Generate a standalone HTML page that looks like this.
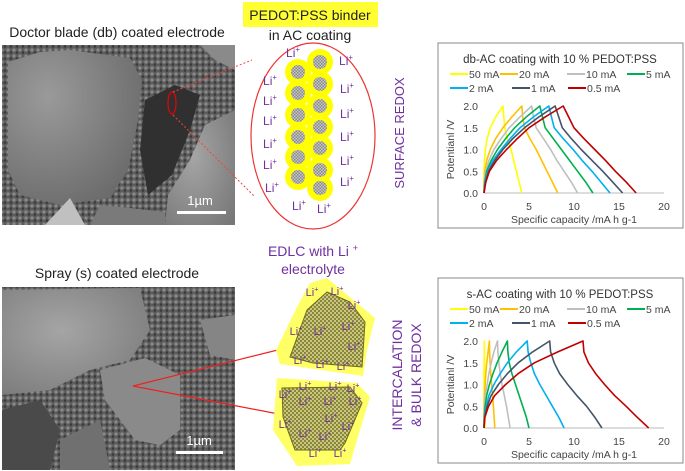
<!DOCTYPE html>
<html><head><meta charset="utf-8"><style>
html,body{margin:0;padding:0;background:#fff}
svg{display:block;font-family:"Liberation Sans",Calibri,sans-serif}
</style></head><body>
<svg id="fig" width="685" height="471" viewBox="0 0 685 471">
<defs>
<pattern id="chk" width="4" height="4" patternUnits="userSpaceOnUse"><rect width="4" height="4" fill="#c9c77a"/><rect width="2" height="2" fill="#8a8640"/><rect x="2" y="2" width="2" height="2" fill="#8a8640"/></pattern>
<pattern id="dots" width="3" height="3" patternUnits="userSpaceOnUse"><rect width="3" height="3" fill="#c8c8c8"/><rect width="1.5" height="1.5" fill="#888"/><rect x="1.5" y="1.5" width="1.5" height="1.5" fill="#888"/></pattern>
<pattern id="grain" width="6" height="6" patternUnits="userSpaceOnUse"><rect width="6" height="6" fill="#5c5c5c"/><circle cx="2" cy="2" r="1.6" fill="#8a8a8a"/><circle cx="5" cy="4.5" r="1.3" fill="#3a3a3a"/></pattern>
<radialGradient id="g1" cx="0.3" cy="0.3" r="0.8"><stop offset="0" stop-color="#9a9a9a"/><stop offset="1" stop-color="#6a6a6a"/></radialGradient>
<radialGradient id="g2" cx="0.4" cy="0.4" r="0.8"><stop offset="0" stop-color="#a5a5a5"/><stop offset="1" stop-color="#777"/></radialGradient>
</defs>

<text x="117" y="37" font-size="14" text-anchor="middle" fill="#222">Doctor blade (db) coated electrode</text>
<text x="117" y="278" font-size="14" text-anchor="middle" fill="#222">Spray (s) coated electrode</text>

<g>
<rect x="2" y="45" width="233" height="180" fill="url(#grain)"/>
<path d="M8,62 L40,52 L70,50 L130,58 L142,80 L138,120 L128,170 L110,198 L60,205 L20,195 L8,170Z" fill="url(#g1)"/>
<path d="M235,110 L205,125 L190,160 L168,195 L165,225 L235,225Z" fill="url(#g2)"/>
<path d="M90,225 L100,205 L130,208 L165,212 L165,225Z" fill="#7a7a7a"/>
<path d="M45,225 L70,198 L85,225Z" fill="#c0c0c0"/>
<path d="M145,100 L175,85 L200,95 L190,130 L172,175 L148,195 L140,150Z" fill="#303030"/>
<path d="M200,45 L235,45 L235,70 L215,60Z" fill="#8a8a8a"/>
<text x="200" y="205" font-size="13" fill="#fff" text-anchor="middle">1µm</text>
<rect x="177" y="211" width="49" height="3" fill="#fff"/>
</g>
<ellipse cx="172" cy="103" rx="4" ry="11" fill="none" stroke="#e00" stroke-width="1.2"/>
<line x1="173" y1="92" x2="252" y2="60" stroke="#e44" stroke-dasharray="2,2"/>
<line x1="173" y1="115" x2="255" y2="197" stroke="#e44" stroke-dasharray="2,2"/>

<g>
<rect x="2" y="287" width="233" height="183" fill="url(#grain)"/>
<path d="M2,290 L140,288 L150,330 L130,360 L90,370 L50,390 L2,395Z" fill="url(#g2)"/>
<path d="M100,370 L145,358 L180,375 L180,430 L160,445 L135,440 L105,400Z" fill="#8a8a8a"/>
<path d="M200,320 L235,315 L235,360 L210,355Z" fill="#858585"/>
<path d="M2,410 L40,400 L60,430 L50,470 L2,470Z" fill="#4a4a4a"/>
<path d="M60,440 L100,420 L110,470 L60,470Z" fill="#707070"/>
<text x="199" y="445" font-size="13" fill="#fff" text-anchor="middle">1µm</text>
<rect x="176" y="451" width="47" height="3" fill="#fff"/>
</g>
<line x1="133" y1="386" x2="330" y2="337" stroke="#e22" stroke-width="1.2"/>
<line x1="133" y1="386" x2="315" y2="421" stroke="#e22" stroke-width="1.2"/>

<rect x="243" y="2" width="135" height="25" fill="#ffff33"/>
<text x="310" y="20" font-size="14" text-anchor="middle" fill="#222">PEDOT:PSS binder</text>
<text x="310" y="40" font-size="14" text-anchor="middle" fill="#222">in AC coating</text>
<ellipse cx="313" cy="136" rx="62" ry="93" fill="none" stroke="#e33" stroke-width="1.2"/>
<g id="particles"></g>
<g id="liTop"></g>
<text transform="translate(404,133) rotate(-90)" font-size="13" fill="#7030a0" text-anchor="middle">SURFACE REDOX</text>

<text x="313" y="256" font-size="14" text-anchor="middle" fill="#7030a0">EDLC with Li <tspan font-size="9" dy="-5">+</tspan></text>
<text x="313" y="274" font-size="14" text-anchor="middle" fill="#7030a0">electrolyte</text>
<polygon points="310,283 327,278 375,318 367,350 363,376 280,364 276,350 297,307" fill="#ffff66"/>
<polygon points="327,292 350,302 365,322 362,367 313,363 290,357 307,310" fill="url(#chk)" stroke="#6b6b20"/>
<polygon points="277,378 357,383 370,397 360,430 350,464 297,466 273,430" fill="#ffff66"/>
<polygon points="282,388 350,387 362,403 345,443 340,450 295,450 283,417" fill="url(#chk)" stroke="#6b6b20"/>
<g id="liBot"></g>
<text transform="translate(402,375) rotate(-90)" font-size="14" fill="#7030a0" text-anchor="middle">INTERCALATION</text>
<text transform="translate(421,375) rotate(-90)" font-size="14" fill="#7030a0" text-anchor="middle">&amp; BULK REDOX</text>

<g id="chart1"></g>
<g id="chart2"></g>
</svg>
<script>
const NS='http://www.w3.org/2000/svg';
function mk(p,tag,attrs,txt){const e=document.createElementNS(NS,tag);for(const k in attrs)e.setAttribute(k,attrs[k]);if(txt!==undefined)e.textContent=txt;p.appendChild(e);return e;}

const pg=document.getElementById('particles');
const leftY=[72,93,115,137,157,177], rightY=[62,84,106,127,148,170,188];
leftY.forEach(y=>{const c=mk(pg,'circle',{cx:298,cy:y,r:13,fill:'#ffff00'});

});
rightY.forEach(y=>{const c=mk(pg,'circle',{cx:320,cy:y,r:13,fill:'#ffff00'});

});
leftY.forEach(y=>{const c=mk(pg,'circle',{cx:298,cy:y,r:7,fill:'url(#dots)'});

});
rightY.forEach(y=>{const c=mk(pg,'circle',{cx:320,cy:y,r:7,fill:'url(#dots)'});

});

function li(g,x,y,fs){const t=mk(g,'text',{x:x,y:y,'font-size':fs,fill:'#7030a0','text-anchor':'middle'});


t.appendChild(document.createTextNode('Li'));mk(t,'tspan',{'font-size':fs*0.65,dy:-fs*0.4},'+');}
const liTopPos=[[293,57],[270,85],[270,105],[270,125],[270,148],[270,169],[272,192],[346,65],[347,93],[347,118],[347,141],[347,165],[347,186],[299,210],[324,213]];
liTopPos.forEach(p=>li(document.getElementById('liTop'),p[0],p[1],12));
const liBotPos=[[312,296],[337,295],[354,309],[296,335],[320,335],[348,330],[354,350],[300,364],[322,368],[343,370],[305,390],[335,390],[353,392],[285,398],[305,405],[330,405],[355,405],[331,422],[285,428],[305,437],[325,440],[348,430],[315,457],[340,457]];
liBotPos.forEach(p=>li(document.getElementById('liBot'),p[0],p[1],11));

// ===== chart data =====
const seriesNames=['50 mA','20 mA','10 mA','5 mA','2 mA','1 mA','0.5 mA'];
const seriesColors=['#ffff00','#ffc000','#bfbfbf','#00b050','#00b0f0','#44546a','#c00000'];
const chargeV=[0,0.25,0.5,0.75,1.0,1.25,1.5,1.75,2.0];
const dischargeV=[2.0,1.75,1.5,1.25,1.0,0.75,0.5,0.25,0];
const xTicks=[0,5,10,15,20];
const yTicks=[0,0.5,1.0,1.5,2.0];
const dbCharge=[
 [0,0,0,0.05,0.15,0.35,0.7,1.3,2.1],
 [0,0.02,0.08,0.3,0.7,1.3,2.1,3.1,4.2],
 [0,0.05,0.2,0.55,1.1,1.9,2.8,4.0,5.3],
 [0,0.08,0.3,0.8,1.5,2.4,3.4,4.7,6.2],
 [0,0.1,0.4,1.0,1.9,2.9,4.0,5.5,7.2],
 [0,0.15,0.5,1.2,2.1,3.2,4.5,6.1,7.9],
 [0,0.2,0.6,1.4,2.5,3.7,5.0,6.8,8.8]];
const dbDischarge=[
 [2.1,2.2,2.3,2.6,3.0,3.3,3.6,3.9,4.2],
 [4.2,4.3,4.5,5.1,5.8,6.4,7.0,7.6,8.2],
 [5.3,5.5,5.8,6.6,7.4,8.1,8.9,9.7,10.4],
 [6.2,6.5,6.8,7.7,8.6,9.5,10.4,11.3,12.1],
 [7.2,7.5,7.8,8.8,9.9,10.9,12.0,13.0,14.0],
 [7.9,8.3,8.7,9.7,10.8,12.0,13.2,14.3,15.4],
 [8.8,9.4,10.0,11.1,12.3,13.5,14.6,15.8,16.9]];
const sCharge=[
 [0,0,0,0,0,0,0.02,0.03,0.05],
 [0,0,0.02,0.05,0.12,0.2,0.3,0.45,0.6],
 [0,0.02,0.06,0.15,0.35,0.55,0.8,1.1,1.5],
 [0,0.03,0.12,0.3,0.6,1.0,1.45,2.0,2.6],
 [0,0.05,0.25,0.55,1.1,1.8,2.6,3.6,4.8],
 [0,0.08,0.35,0.8,1.6,2.6,3.8,5.4,7.3],
 [0,0.1,0.5,1.2,2.4,3.8,5.6,8.2,11.0]];
const sDischarge=[
 [0.05,0.05,0.06,0.07,0.08,0.09,0.1,0.1,0.1],
 [0.6,0.62,0.68,0.75,0.85,0.95,1.05,1.12,1.2],
 [1.5,1.55,1.65,1.8,2.0,2.25,2.5,2.7,2.9],
 [2.6,2.65,2.8,3.1,3.5,3.9,4.3,4.7,5.0],
 [4.8,4.9,5.2,5.6,6.2,6.9,7.6,8.3,8.9],
 [7.3,7.4,7.8,8.4,9.3,10.3,11.4,12.3,13.1],
 [11.0,11.1,11.6,12.4,13.4,14.5,15.8,17.0,18.3]];

function chart(gid,oy,title,charge,discharge){
  const g=document.getElementById(gid);
  const X0=484,X1=664,Y0=oy+153,Y1=oy+66;
  const sx=v=>X0+(v-0)/(20-0)*(X1-X0), sy=v=>Y0-(v-0)/(2-0)*(Y0-Y1);
  const box=mk(g,'rect',{x:438,y:oy+3,width:245,height:185,fill:'#fff',stroke:'#888','stroke-width':1});
  
  
  const t=mk(g,'text',{x:560,y:oy+23,'font-size':11.5,'text-anchor':'middle',fill:'#333'},title);
  
  
  const lx=[450,500,567,627,450,512,568], ly=[37,37,37,37,51,51,51];
  seriesNames.forEach((n,i)=>{
    const l=mk(g,'line',{x1:lx[i],x2:lx[i]+18,y1:oy+ly[i]-3,y2:oy+ly[i]-3,stroke:seriesColors[i],'stroke-width':2});
    
    
    const tx=mk(g,'text',{x:lx[i]+19,y:oy+ly[i]+1,'font-size':10.5,fill:'#444'},n);
    
    
  });
  yTicks.forEach(v=>{const tx=mk(g,'text',{x:X0-6,y:sy(v)+4,'font-size':10.5,'text-anchor':'end',fill:'#444'},v.toFixed(1));
    
    });
  xTicks.forEach(v=>{const tx=mk(g,'text',{x:sx(v),y:Y0+17,'font-size':10.5,'text-anchor':'middle',fill:'#444'},String(v));
    
    });
  const xa=mk(g,'line',{x1:X0,x2:X1,y1:Y0,y2:Y0,stroke:'#bbb'});
  
  
  const xt=mk(g,'text',{x:574,y:Y0+30,'font-size':10.5,'text-anchor':'middle',fill:'#444'},'Specific capacity /mA h g-1');
  
  
  const yt=mk(g,'text',{transform:`translate(${X0-30},${(Y0+Y1)/2}) rotate(-90)`,'font-size':10.5,'text-anchor':'middle',fill:'#444'},'Potentianl /V');
  
  
  seriesNames.forEach((n,i)=>{
    const pts=[];
    charge[i].forEach((c,k)=>pts.push(sx(c).toFixed(1)+','+sy(chargeV[k]).toFixed(1)));
    discharge[i].forEach((c,k)=>pts.push(sx(c).toFixed(1)+','+sy(dischargeV[k]).toFixed(1)));
    const pl=mk(g,'polyline',{points:pts.join(' '),fill:'none',stroke:seriesColors[i],'stroke-width':1.6,'stroke-linejoin':'round'});
    
    
  });
}
chart('chart1',40,'db-AC coating with 10 % PEDOT:PSS',dbCharge,dbDischarge);
chart('chart2',275,'s-AC coating with 10 % PEDOT:PSS',sCharge,sDischarge);
</script>
</body></html>
